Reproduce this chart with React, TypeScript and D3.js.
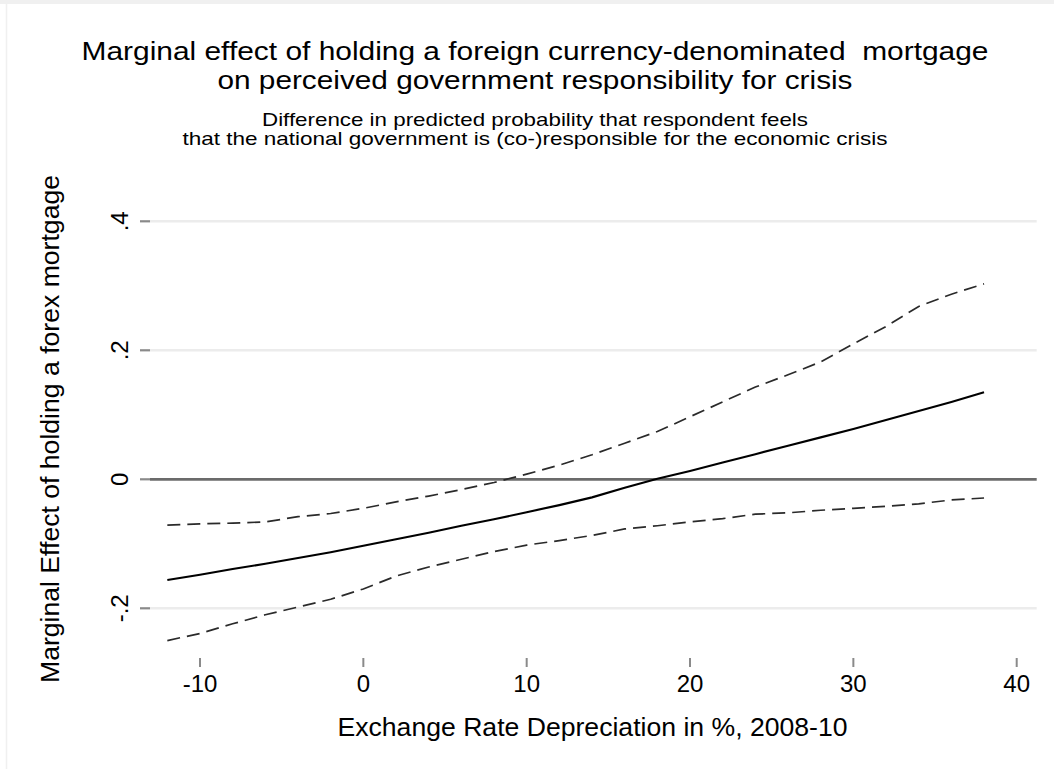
import React from "react";
import * as d3 from "d3";

const xValues = [-12, -10, -8, -6, -4, -2, 0, 2, 4, 6, 8, 10, 12, 14, 16, 18, 20, 22, 24, 26, 28, 30, 32, 34, 36, 38];
const estimate = [-0.156, -0.148, -0.139, -0.131, -0.122, -0.113, -0.103, -0.093, -0.083, -0.072, -0.062, -0.051, -0.040, -0.028, -0.013, 0.001, 0.013, 0.026, 0.039, 0.052, 0.065, 0.078, 0.092, 0.106, 0.120, 0.135];
const upperCI = [-0.071, -0.069, -0.068, -0.066, -0.058, -0.053, -0.045, -0.035, -0.026, -0.016, -0.005, 0.008, 0.022, 0.038, 0.056, 0.074, 0.097, 0.120, 0.143, 0.162, 0.182, 0.210, 0.237, 0.268, 0.287, 0.303];
const lowerCI = [-0.250, -0.239, -0.224, -0.210, -0.198, -0.186, -0.170, -0.150, -0.136, -0.124, -0.112, -0.102, -0.095, -0.087, -0.077, -0.072, -0.066, -0.061, -0.054, -0.052, -0.048, -0.045, -0.042, -0.038, -0.032, -0.029];
const xTicks = [-10, 0, 10, 20, 30, 40];
const yTicks = [-0.2, 0, 0.2, 0.4];
const yTickLabels = ["-.2", "0", ".2", ".4"];
const titleLines = [
  "Marginal effect of holding a foreign currency-denominated  mortgage",
  "on perceived government responsibility for crisis",
];
const subtitleLines = [
  "Difference in predicted probability that respondent feels",
  "that the national government is (co-)responsible for the economic crisis",
];
const xTitle = "Exchange Rate Depreciation in %, 2008-10";
const yTitle = "Marginal Effect of holding a forex mortgage";

const FONT = "'Liberation Sans', Arial, Helvetica, sans-serif";

export default function App() {
  const W = 1054, H = 769;
  const x = d3.scaleLinear().domain([-10, 40]).range([200, 1016.7]);
  const y = d3.scaleLinear().domain([-0.2, 0.4]).range([608.3, 221.3]);
  const plotLeft = 150, plotRight = 1036.7;

  const mk = (vals: number[]) =>
    d3.line<number>().x((_, i) => x(xValues[i])).y((d) => y(d))(vals) || "";

  const titleLens = [907, 635];
  const subLens = [546, 705];

  return (
    <svg width={W} height={H} style={{ position: "absolute", left: 0, top: 0, background: "#fff" }} fontFamily={FONT}>
      <rect x={0} y={0} width={W} height={H} fill="#fff" />
      <rect x={0} y={0} width={W} height={4} fill="#f0f0f0" />
      <line x1={6.5} x2={6.5} y1={4} y2={H} stroke="#f0f0f0" strokeWidth={1.5} />

      {/* titles */}
      {titleLines.map((t, i) => (
        <text key={"t" + i} x={535} y={60 + i * 28.5} textAnchor="middle" fontSize={25.5} fill="#000"
          textLength={titleLens[i]} lengthAdjust="spacingAndGlyphs" style={{ whiteSpace: "pre" }}>{t}</text>
      ))}
      {subtitleLines.map((t, i) => (
        <text key={"s" + i} x={535} y={125.5 + i * 19} textAnchor="middle" fontSize={18.6} fill="#000"
          textLength={subLens[i]} lengthAdjust="spacingAndGlyphs">{t}</text>
      ))}

      {/* gridlines */}
      {yTicks.map((t, i) => (
        <g key={"g" + i}>
          <line x1={plotLeft} x2={plotRight} y1={y(t)} y2={y(t)}
            stroke={t === 0 ? "#6b6b6b" : "#ececec"} strokeWidth={t === 0 ? 2.8 : 2.4} />
          <line x1={140} x2={plotLeft} y1={y(t)} y2={y(t)} stroke="#8a8a8a" strokeWidth={2.2} />
          <text transform={`translate(128,${y(t)}) rotate(-90)`} textAnchor="middle" fontSize={24} fill="#000">{yTickLabels[i]}</text>
        </g>
      ))}

      {/* x ticks */}
      {xTicks.map((t, i) => (
        <g key={"x" + i}>
          <line x1={x(t)} x2={x(t)} y1={658} y2={667} stroke="#8a8a8a" strokeWidth={2} />
          <text x={x(t)} y={691.5} textAnchor="middle" fontSize={24} fill="#000">{t}</text>
        </g>
      ))}

      {/* lines */}
      <path d={mk(upperCI)} fill="none" stroke="#2a2a2a" strokeWidth={1.7} strokeDasharray="13 7" />
      <path d={mk(lowerCI)} fill="none" stroke="#2a2a2a" strokeWidth={1.7} strokeDasharray="13 7" />
      <path d={mk(estimate)} fill="none" stroke="#000" strokeWidth={2.1} />

      {/* axis titles */}
      <text x={592.5} y={736} textAnchor="middle" fontSize={26.6} fill="#000">{xTitle}</text>
      <text transform={`translate(58.5,429) rotate(-90)`} textAnchor="middle" fontSize={26.6} fill="#000">{yTitle}</text>
    </svg>
  );
}
